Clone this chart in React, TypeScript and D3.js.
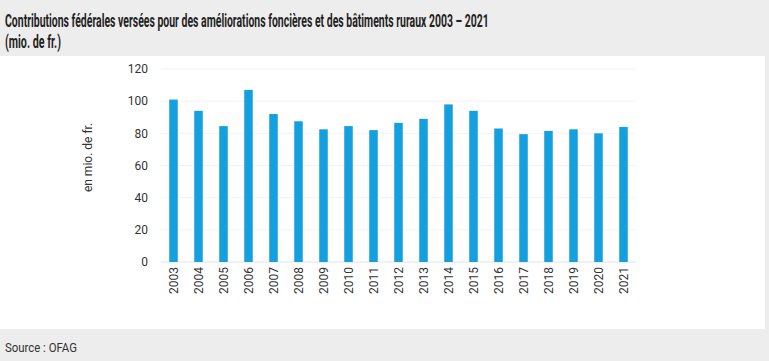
import React, { useEffect, useRef } from "react"
import * as d3 from "d3"

const years = [
  "2003", "2004", "2005", "2006", "2007", "2008", "2009", "2010", "2011", "2012",
  "2013", "2014", "2015", "2016", "2017", "2018", "2019", "2020", "2021"
]
const contributions = [
  101, 94, 84.5, 107, 92, 87.5, 82.5, 84.5, 82, 86.5,
  89, 98, 94, 83, 79.5, 81.5, 82.5, 80, 84
]
const yTicks = [0, 20, 40, 60, 80, 100, 120]

const titleLines = [
  "Contributions fédérales versées pour des améliorations foncières et des bâtiments ruraux 2003 – 2021",
  "(mio. de fr.)"
]
const titleWidths = [484, 56]

function App() {
  const ref = useRef<SVGSVGElement>(null)

  useEffect(() => {
    document.body.style.margin = "0"
    const width = 769
    const height = 361
    const margin = { left: 161, right: 133, top: 69, bottom: 99 }

    const svg = d3.select(ref.current)
    svg.selectAll("*").remove()
    svg.attr("width", width).attr("height", height)

    // page background + white panel
    svg.append("rect").attr("width", width).attr("height", height).attr("fill", "#ededed")
    svg.append("rect").attr("x", 0).attr("y", 56).attr("width", 765).attr("height", 273).attr("fill", "#ffffff")

    // title: squeeze horizontally to mimic the condensed face
    const title = svg
      .append("g")
      .attr("font-family", "Roboto, sans-serif")
      .attr("font-weight", "bold")
      .attr("font-size", 18)
      .attr("fill", "#222")
      .selectAll("text")
      .data(titleLines)
      .join("text")
      .text(d => d)

    title.attr("transform", function (d, i) {
      const len = (this as SVGTextElement).getComputedTextLength() || titleWidths[i]
      return `translate(5, ${27 + i * 21}) scale(${titleWidths[i] / len}, 1)`
    })

    const x = d3
      .scaleBand()
      .domain(years)
      .range([margin.left, width - margin.right])
      .paddingInner(0.66)
      .paddingOuter(0.33)

    const y = d3
      .scaleLinear()
      .domain([0, 120])
      .range([height - margin.bottom, margin.top])

    // grid
    svg
      .append("g")
      .selectAll("line")
      .data(yTicks)
      .join("line")
      .attr("x1", margin.left)
      .attr("x2", width - margin.right)
      .attr("y1", d => y(d))
      .attr("y2", d => y(d))
      .attr("stroke", d => (d === 0 ? "#e2e2e2" : "#f2f2f2"))
      .attr("stroke-width", 1)

    // bars
    svg
      .append("g")
      .selectAll("rect")
      .data(contributions)
      .join("rect")
      .attr("x", (d, i) => x(years[i]))
      .attr("width", x.bandwidth())
      .attr("y", d => y(d))
      .attr("height", d => y(0) - y(d))
      .attr("fill", "#149fdf")

    // y axis labels
    svg
      .append("g")
      .attr("font-family", "Roboto, sans-serif")
      .attr("font-size", 12)
      .attr("fill", "#333")
      .attr("text-anchor", "end")
      .selectAll("text")
      .data(yTicks)
      .join("text")
      .attr("x", 148)
      .attr("y", d => y(d))
      .attr("dy", "0.35em")
      .text(d => d)

    // x axis labels (rotated)
    svg
      .append("g")
      .attr("font-family", "Roboto, sans-serif")
      .attr("font-size", 12)
      .attr("fill", "#333")
      .attr("text-anchor", "end")
      .selectAll("text")
      .data(years)
      .join("text")
      .attr("transform", d => `translate(${x(d) + x.bandwidth() / 2}, ${y(0) + 5}) rotate(-90)`)
      .attr("dy", "0.35em")
      .text(d => d)

    // y axis title
    svg
      .append("text")
      .attr("transform", `translate(88, ${(y(0) + y(120)) / 2 - 8}) rotate(-90)`)
      .attr("font-family", "Roboto, sans-serif")
      .attr("font-size", 12)
      .attr("fill", "#333")
      .attr("text-anchor", "middle")
      .attr("dy", "0.35em")
      .text("en mio. de fr.")

    // source
    svg
      .append("text")
      .attr("x", 5)
      .attr("y", 352)
      .attr("font-family", "Roboto, sans-serif")
      .attr("font-size", 12)
      .attr("fill", "#333")
      .attr("textLength", 72)
      .attr("lengthAdjust", "spacingAndGlyphs")
      .text("Source : OFAG")
  }, [])

  return <svg ref={ref} style={{ display: "block" }} />
}

export default App
